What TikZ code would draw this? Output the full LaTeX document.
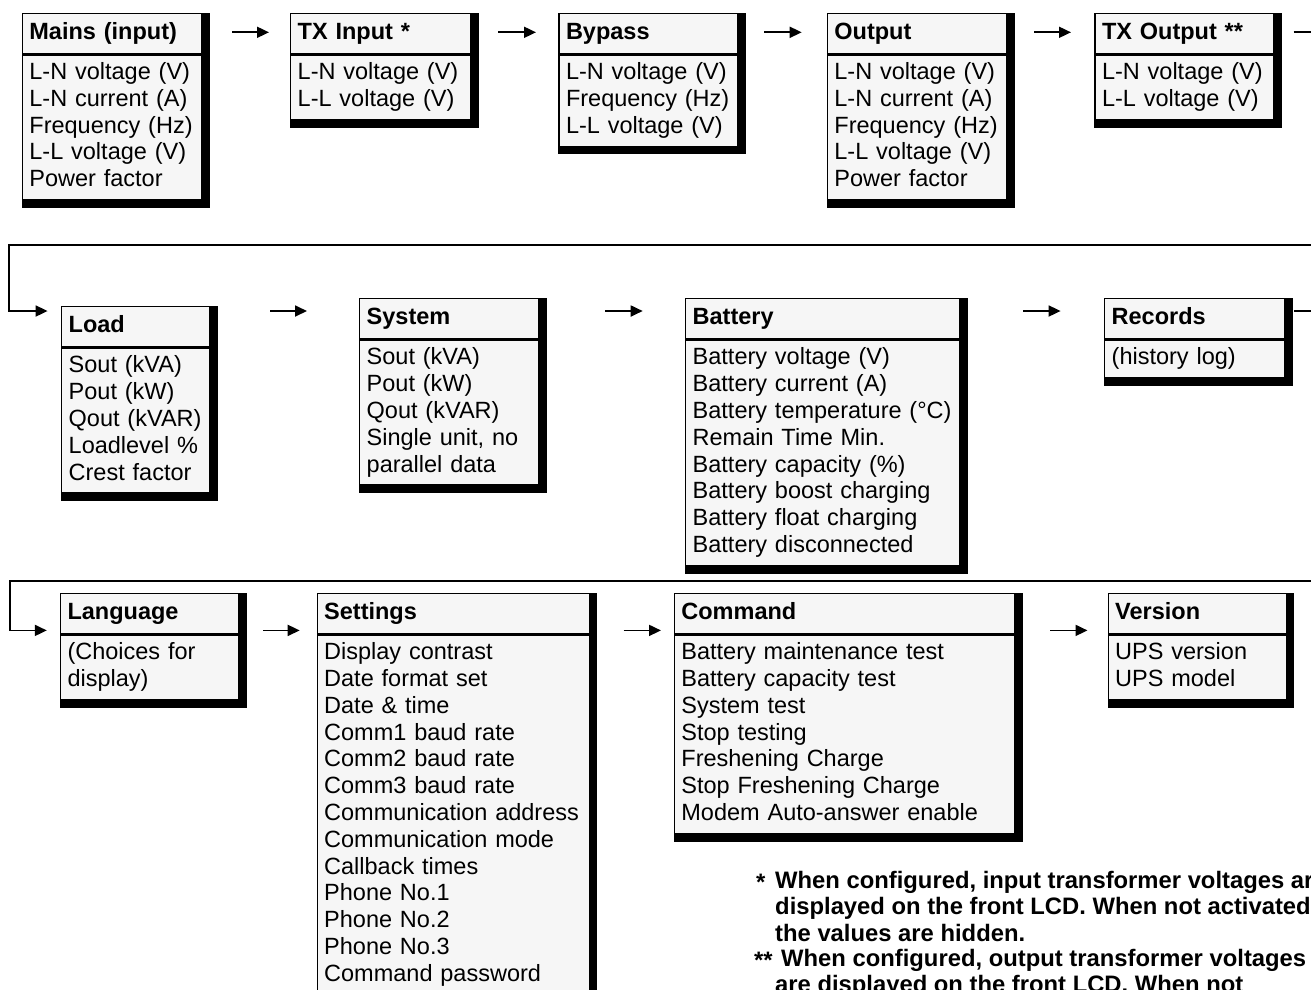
\documentclass[tikz,border=0pt]{standalone}
\usepackage{fontspec}
\setmainfont{Liberation Sans}
\usetikzlibrary{arrows.meta,backgrounds}
\definecolor{boxfill}{RGB}{246,246,246}
\newcommand{\lstrut}{\rule[-7.6pt]{0pt}{26.8pt}}
% one menu box: name, x, y, text width, title, entries
\newcommand{\upsbox}[6]{%
  \node[boxhead,text width=#4pt] (#1) at (#2,#3) {#5};
  \node[boxbody,text width=#4pt] (#1-body) at (#1.south west) {#6};
}

\begin{document}
\begin{tikzpicture}[x=1pt,y=-1pt,
  every node/.style={font=\fontsize{23.5}{26.8}\selectfont},
  boxhead/.style={draw,line width=1.4pt,fill=boxfill,anchor=north west,align=left,
    inner xsep=7pt,inner ysep=0pt,minimum height=40pt,
    font=\fontsize{23.5}{26.8}\selectfont\bfseries,execute at begin node=\lstrut},
  boxbody/.style={draw,line width=1.4pt,fill=boxfill,anchor=north west,align=left,
    inner xsep=7pt,inner ysep=5.5pt,execute at begin node=\lstrut,execute at end node=\lstrut},
  arr/.style={-{Triangle[length=12pt,width=11pt]},line width=1.8pt},
  note/.style={anchor=north west,inner sep=0pt,align=left,
    font=\fontsize{23.8}{26.3}\selectfont\bfseries,execute at begin node=\lstrut}]
\useasboundingbox (0,0) rectangle (1311,989);
\clip (0,0) rectangle (1311,989);

% row heights of the arrows
\coordinate (r1) at (0,32.3); \coordinate (r2) at (0,311); \coordinate (r3) at (0,630.4);
\coordinate (east) at (1340,0); \coordinate (t1) at (9.3,244.6); \coordinate (t2) at (10,581);

\upsbox{mains}{21.7}{12.7}{165.3}{Mains (input)}{L-N voltage (V)\\L-N current (A)\\Frequency~(Hz)\\L-L voltage (V)\\Power factor}
\upsbox{txin}{290}{12.7}{166}{TX Input *}{L-N voltage (V)\\L-L voltage (V)}
\upsbox{bypass}{558.3}{12.7}{164.4}{Bypass}{L-N voltage (V)\\Frequency~(Hz)\\L-L voltage (V)}
\upsbox{output}{826.7}{12.7}{165}{Output}{L-N voltage (V)\\L-N current (A)\\Frequency~(Hz)\\L-L voltage (V)\\Power factor}
\upsbox{txout}{1094.3}{12.7}{165}{TX Output **}{L-N voltage (V)\\L-L voltage (V)}

\upsbox{load}{61}{306}{134}{Load}{Sout (kVA)\\Pout (kW)\\Qout~(kVAR)\\Loadlevel \%\\Crest factor}
\upsbox{system}{359}{298}{165}{System}{Sout (kVA)\\Pout (kW)\\Qout (kVAR)\\Single unit, no\\parallel data}
\upsbox{battery}{685}{298}{260}{Battery}{Battery voltage (V)\\Battery current (A)\\Battery~temperature~(°C)\\Remain Time Min.\\Battery capacity (\%)\\Battery boost charging\\Battery float charging\\Battery disconnected}
\upsbox{records}{1104}{298}{166}{Records}{(history log)}

\upsbox{language}{59.8}{592.8}{164}{Language}{(Choices for\\display)}
\upsbox{settings}{316.5}{592.8}{258}{Settings}{Display contrast\\Date format set\\Date \& time\\Comm1 baud rate\\Comm2 baud rate\\Comm3 baud rate\\Communication~address\\Communication mode\\Callback times\\Phone No.1\\Phone No.2\\Phone No.3\\Command password}
\upsbox{command}{673.7}{592.8}{326}{Command}{Battery maintenance test\\Battery capacity test\\System test\\Stop testing\\Freshening Charge\\Stop Freshening Charge\\Modem Auto-answer enable}
\upsbox{version}{1107.5}{592.8}{164}{Version}{UPS version\\UPS model}

\begin{scope}[on background layer]
\clip (0,0) rectangle (1311,989);
\foreach \b in {mains,txin,bypass,output,txout,load,system,battery,records,language,settings,command,version}
  \fill[black] (\b.north west) rectangle ([xshift=7.5pt,yshift=-7.5pt]\b-body.south east);
\end{scope}

% row 1
\draw[arr,shorten <=30pt,shorten >=21pt] (mains.east |- r1) -- (txin.west |- r1);
\draw[arr,shorten <=26.7pt,shorten >=22.3pt] (txin.east |- r1) -- (bypass.west |- r1);
\draw[arr,shorten <=26.3pt,shorten >=25pt] (bypass.east |- r1) -- (output.west |- r1);
\draw[arr,shorten <=27pt,shorten >=23.3pt] (output.east |- r1) -- (txout.west |- r1);
\draw[arr,shorten <=19pt,shorten >=13.4pt] (txout.east |- r1) -- (east |- r1) |- (t1) |- (load.west |- r2);
% row 2
\draw[arr,shorten <=60pt,shorten >=52pt] (load.east |- r2) -- (system.west |- r2);
\draw[arr,shorten <=66pt,shorten >=42.3pt] (system.east |- r2) -- (battery.west |- r2);
\draw[arr,shorten <=63pt,shorten >=43.4pt] (battery.east |- r2) -- (records.west |- r2);
\draw[arr,shorten <=9pt,shorten >=13pt] (records.east |- r2) -- (east |- r2) |- (t2) |- (language.west |- r3);
% row 3
\draw[arr,shorten <=24pt,shorten >=16.8pt] (language.east |- r3) -- (settings.west |- r3);
\draw[arr,shorten <=33.6pt,shorten >=12.7pt] (settings.east |- r3) -- (command.west |- r3);
\draw[arr,shorten <=35.3pt,shorten >=20pt] (command.east |- r3) -- (version.west |- r3);

% footnotes
\node[note] (star1) at (756,871) {*};
\node[note] (fn1) at (775,871) {When configured, input transformer voltages are\\displayed on the front LCD. When not activated,\\the values are hidden.};
\node[note] (star2) at (754,949) {**};
\node[note] (fn2) at (775,949) {\hspace*{6pt}When configured, output transformer voltages\\are displayed on the front LCD. When not};
\end{tikzpicture}
\end{document}
